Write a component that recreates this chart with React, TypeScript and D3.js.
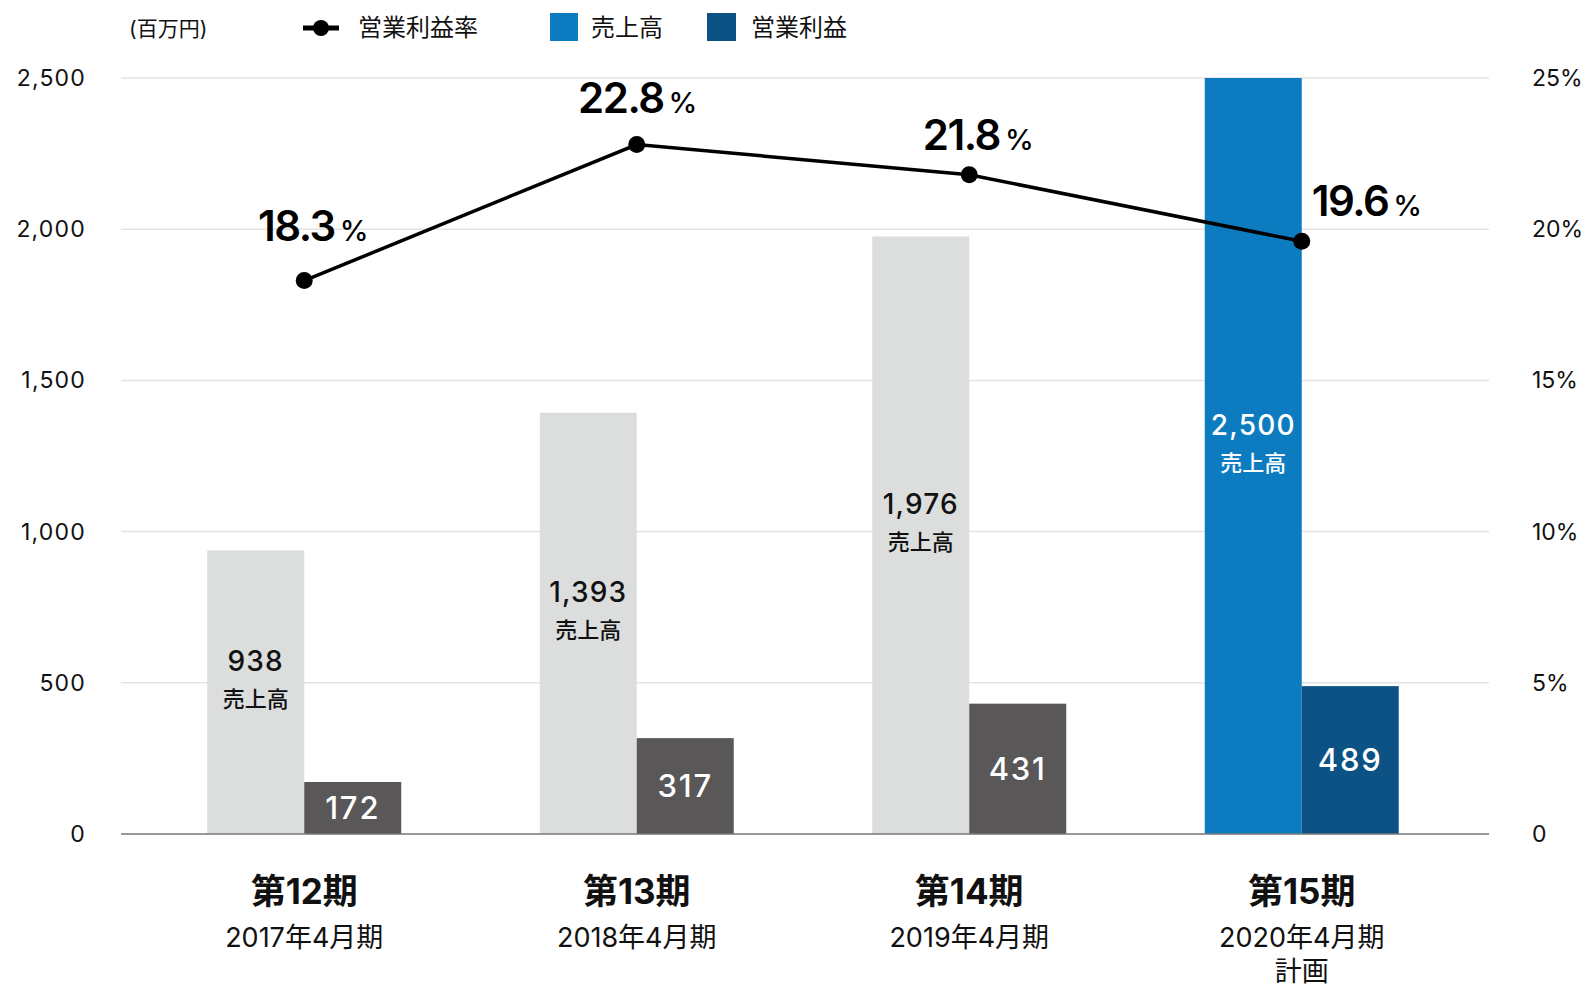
import React from "react";
import * as d3 from "d3";

// data
const periods = ["第12期", "第13期", "第14期", "第15期"];
const subLabels = [["2017年4月期"], ["2018年4月期"], ["2019年4月期"], ["2020年4月期", "計画"]];
const sales = [938, 1393, 1976, 2500];
const profit = [172, 317, 431, 489];
const margin = [18.3, 22.8, 21.8, 19.6];
const leftTicks = [0, 500, 1000, 1500, 2000, 2500];
const rightTicks = [0, 5, 10, 15, 20, 25];

// rate label placement relative to its dot
const rateLabelOffsets = [
  { dx: 9, dy: -40, anchor: "middle" },
  { dx: 1, dy: -32, anchor: "middle" },
  { dx: 9, dy: -25, anchor: "middle" },
  { dx: 10, dy: -25, anchor: "start" },
];

const W = 1585;
const H = 987;
const FONT = "Inter, 'Noto Sans CJK JP', 'Noto Sans', sans-serif";

const GRAY = "#dcdddd";
const DARKGRAY = "#595757";
const BLUE = "#0c7bc0";
const DARKBLUE = "#0c5285";

const App: React.FC = () => {
  const plotLeft = 121;
  const plotRight = 1489;

  const x = d3.scaleBand<string>().domain(periods).range([138, 1468]).padding(0);
  const y = d3.scaleLinear().domain([0, 2500]).range([834, 78]);
  const yr = d3.scaleLinear().domain([0, 25]).range([834, 78]);
  const barW = 97;
  const cx = (p: string) => (x(p) ?? 0) + x.bandwidth() / 2;
  const fmt = d3.format(",");

  const line = d3
    .line<number>()
    .x((_, i) => cx(periods[i]))
    .y((d) => yr(d));

  const last = periods.length - 1;

  return (
    <svg
      width={W}
      height={H}
      style={{ position: "absolute", left: 0, top: 0, display: "block", background: "#fff" }}
      fontFamily={FONT}
    >
      {/* legend */}
      <g fontSize={24} fill="#111">
        <text x={129} y={36} fontSize={21}>
          (百万円)
        </text>
        <line x1={303} x2={339} y1={28} y2={28} stroke="#000" strokeWidth={5} />
        <circle cx={321} cy={28} r={8} fill="#000" />
        <text x={358} y={36}>営業利益率</text>
        <rect x={550} y={13} width={28} height={28} fill={BLUE} />
        <text x={591} y={36}>売上高</text>
        <rect x={707} y={13} width={29} height={28} fill={DARKBLUE} />
        <text x={751} y={36}>営業利益</text>
      </g>

      {/* grid */}
      {leftTicks.slice(1).map((t) => (
        <line key={t} x1={plotLeft} x2={plotRight} y1={y(t)} y2={y(t)} stroke="#e3e3e3" strokeWidth={1.5} />
      ))}

      {/* left axis labels */}
      <g fontSize={23} fill="#111" textAnchor="end" letterSpacing={1.2}>
        {leftTicks.map((t) => (
          <text key={t} x={86} y={y(t)} dy="0.35em">
            {fmt(t)}
          </text>
        ))}
      </g>
      {/* right axis labels */}
      <g fontSize={23} fill="#111" textAnchor="start">
        {rightTicks.map((t) => (
          <text key={t} x={1532} y={yr(t)} dy="0.35em">
            {t === 0 ? "0" : `${t}%`}
          </text>
        ))}
      </g>

      {/* bars */}
      {periods.map((p, i) => {
        const c = cx(p);
        const isPlan = i === last;
        const sTop = y(sales[i]);
        const pTop = y(profit[i]);
        const sMid = (sTop + y(0)) / 2 - 21;
        return (
          <g key={p}>
            <rect x={c - barW} y={sTop} width={barW} height={y(0) - sTop} fill={isPlan ? BLUE : GRAY} />
            <rect x={c} y={pTop} width={barW} height={y(0) - pTop} fill={isPlan ? DARKBLUE : DARKGRAY} />
            <text
              x={c - barW / 2}
              y={sMid}
              textAnchor="middle"
              fontSize={28}
              fontWeight={500}
              letterSpacing={1.2}
              fill={isPlan ? "#fff" : "#111"}
            >
              {fmt(sales[i])}
            </text>
            <text
              x={c - barW / 2}
              y={sMid + 36}
              textAnchor="middle"
              fontSize={22}
              fontWeight={500}
              fill={isPlan ? "#fff" : "#111"}
            >
              売上高
            </text>
            <text
              x={c + barW / 2}
              y={(pTop + y(0)) / 2}
              dy="0.36em"
              textAnchor="middle"
              fontSize={31}
              fontWeight={500}
              letterSpacing={1.8}
              fill="#fff"
            >
              {fmt(profit[i])}
            </text>
          </g>
        );
      })}

      {/* baseline */}
      <line x1={plotLeft} x2={plotRight} y1={y(0)} y2={y(0)} stroke="#777" strokeWidth={1.5} />

      {/* margin line */}
      <path d={line(margin) ?? ""} fill="none" stroke="#000" strokeWidth={3.5} />
      {margin.map((m, i) => {
        const px = cx(periods[i]);
        const py = yr(m);
        const o = rateLabelOffsets[i];
        return (
          <g key={i}>
            <circle cx={px} cy={py} r={8.5} fill="#000" />
            <text x={px + o.dx} y={py + o.dy} textAnchor={o.anchor} fill="#000">
              <tspan fontSize={42} fontWeight={600} letterSpacing={-1.5}>
                {m.toFixed(1)}
              </tspan>
              <tspan fontSize={29} fontWeight={500} dx={5}>
                %
              </tspan>
            </text>
          </g>
        );
      })}

      {/* x labels */}
      {periods.map((p, i) => (
        <g key={p} textAnchor="middle" fill="#111">
          <text x={cx(p)} y={904} fontSize={35} fontWeight={700}>
            {p}
          </text>
          {subLabels[i].map((s, j) => (
            <text key={s} x={cx(p)} y={947 + j * 34} fontSize={27}>
              {s}
            </text>
          ))}
        </g>
      ))}
    </svg>
  );
};

export default App;
